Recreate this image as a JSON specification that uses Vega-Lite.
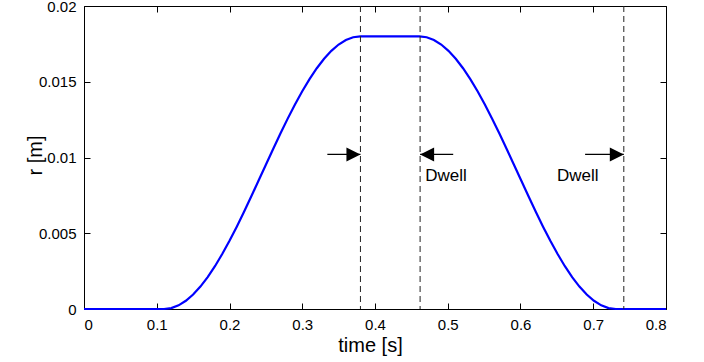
{
  "$schema": "https://vega.github.io/schema/vega-lite/v6.json",
  "width": 582,
  "height": 303,
  "autosize": "none",
  "padding": {"left": 84, "top": 6, "right": 38, "bottom": 53},
  "config": {
    "font": "Liberation Sans",
    "view": {"stroke": "#000000", "strokeWidth": 1},
    "axis": {"domain": false, "grid": false, "tickColor": "#000000", "tickWidth": 1, "labelColor": "#000000", "titleColor": "#000000", "labelFontSize": 15, "titleFontSize": 20, "titleFontWeight": "normal", "tickSize": -6, "labelPadding": 14}
  },
  "resolve": {"axis": {"x": "independent", "y": "independent"}},
  "layer": [
    {
      "data": {"values": [
        {"t": 0, "r": 0}, {"t": 0.11, "r": 0},
        {"t": 0.12, "r": 0.0000608}, {"t": 0.13, "r": 0.000243}, {"t": 0.14, "r": 0.000543}, {"t": 0.15, "r": 0.000957},
        {"t": 0.16, "r": 0.001481}, {"t": 0.17, "r": 0.002106}, {"t": 0.18, "r": 0.002824}, {"t": 0.19, "r": 0.003626},
        {"t": 0.2, "r": 0.0045}, {"t": 0.21, "r": 0.005435}, {"t": 0.22, "r": 0.006419}, {"t": 0.23, "r": 0.007437},
        {"t": 0.24, "r": 0.008477}, {"t": 0.25, "r": 0.009523}, {"t": 0.26, "r": 0.010563}, {"t": 0.27, "r": 0.011581},
        {"t": 0.28, "r": 0.012565}, {"t": 0.29, "r": 0.0135}, {"t": 0.3, "r": 0.014374}, {"t": 0.31, "r": 0.015176},
        {"t": 0.32, "r": 0.015894}, {"t": 0.33, "r": 0.016519}, {"t": 0.34, "r": 0.017043}, {"t": 0.35, "r": 0.017457},
        {"t": 0.36, "r": 0.017757}, {"t": 0.37, "r": 0.017939}, {"t": 0.38, "r": 0.018},
        {"t": 0.461, "r": 0.018}, {"t": 0.471, "r": 0.017939}, {"t": 0.481, "r": 0.017757}, {"t": 0.491, "r": 0.017457},
        {"t": 0.501, "r": 0.017043}, {"t": 0.511, "r": 0.016519}, {"t": 0.521, "r": 0.015894}, {"t": 0.531, "r": 0.015176},
        {"t": 0.541, "r": 0.014374}, {"t": 0.551, "r": 0.0135}, {"t": 0.561, "r": 0.012565}, {"t": 0.571, "r": 0.011581},
        {"t": 0.581, "r": 0.010563}, {"t": 0.591, "r": 0.009523}, {"t": 0.601, "r": 0.008477}, {"t": 0.611, "r": 0.007437},
        {"t": 0.621, "r": 0.006419}, {"t": 0.631, "r": 0.005435}, {"t": 0.641, "r": 0.0045}, {"t": 0.651, "r": 0.003626},
        {"t": 0.661, "r": 0.002824}, {"t": 0.671, "r": 0.002106}, {"t": 0.681, "r": 0.001481}, {"t": 0.691, "r": 0.000957},
        {"t": 0.701, "r": 0.000543}, {"t": 0.711, "r": 0.000243}, {"t": 0.721, "r": 0.0000608}, {"t": 0.731, "r": 0},
        {"t": 0.8, "r": 0}
      ]},
      "mark": {"type": "line", "color": "#0000ff", "strokeWidth": 2.2},
      "encoding": {
        "x": {"field": "t", "type": "quantitative", "scale": {"domain": [0, 0.8], "nice": false},
          "axis": {"orient": "bottom", "values": [0, 0.1, 0.2, 0.3, 0.4, 0.5, 0.6, 0.7, 0.8], "format": "~g", "title": "time [s]", "titleX": 286, "titleY": 42, "titleBaseline": "alphabetic", "titleAlign": "center"}},
        "y": {"field": "r", "type": "quantitative", "scale": {"domain": [0, 0.02], "nice": false},
          "axis": {"orient": "left", "values": [0, 0.005, 0.01, 0.015, 0.02], "format": "~g", "title": "r [m]", "titleX": -43, "titleY": 149, "titleBaseline": "alphabetic", "titleAlign": "center", "titleAngle": -90}}
      }
    },
    {
      "data": {"values": [{"t": 0.38}, {"t": 0.462}, {"t": 0.742}]},
      "mark": {"type": "rule", "color": "#222222", "strokeWidth": 1, "strokeDash": [6, 4]},
      "encoding": {
        "x": {"field": "t", "type": "quantitative", "scale": {"domain": [0, 0.8], "nice": false}, "axis": null}
      }
    },
    {
      "data": {"values": [
        {"x1": 0.3345, "x2": 0.38, "y": 0.0102},
        {"x1": 0.462, "x2": 0.5075, "y": 0.0102},
        {"x1": 0.6888, "x2": 0.742, "y": 0.0102}
      ]},
      "mark": {"type": "rule", "color": "#000000", "strokeWidth": 1.3},
      "encoding": {
        "x": {"field": "x1", "type": "quantitative", "scale": {"domain": [0, 0.8], "nice": false},
          "axis": {"orient": "top", "values": [0, 0.1, 0.2, 0.3, 0.4, 0.5, 0.6, 0.7, 0.8], "labels": false, "title": null}},
        "x2": {"field": "x2"},
        "y": {"field": "y", "type": "quantitative", "scale": {"domain": [0, 0.02], "nice": false},
          "axis": {"orient": "right", "values": [0, 0.005, 0.01, 0.015, 0.02], "labels": false, "title": null}}
      }
    },
    {
      "data": {"values": [
        {"x": 0.38, "y": 0.0102, "dir": "r"},
        {"x": 0.462, "y": 0.0102, "dir": "l"},
        {"x": 0.742, "y": 0.0102, "dir": "r"}
      ]},
      "mark": {"type": "point", "filled": true, "color": "#000000", "opacity": 1, "size": 784, "strokeWidth": 0},
      "encoding": {
        "x": {"field": "x", "type": "quantitative", "scale": {"domain": [0, 0.8], "nice": false}, "axis": null},
        "y": {"field": "y", "type": "quantitative", "scale": {"domain": [0, 0.02], "nice": false}, "axis": null},
        "shape": {"field": "dir", "type": "nominal", "scale": {"domain": ["r", "l"], "range": ["M0,0L-1,-0.5L-1,0.5Z", "M0,0L1,-0.5L1,0.5Z"]}, "legend": null}
      }
    },
    {
      "data": {"values": [
        {"x": 0.469, "y": 0.00875, "label": "Dwell"},
        {"x": 0.65, "y": 0.00875, "label": "Dwell"}
      ]},
      "mark": {"type": "text", "align": "left", "baseline": "middle", "fontSize": 17, "color": "#000000"},
      "encoding": {
        "x": {"field": "x", "type": "quantitative", "scale": {"domain": [0, 0.8], "nice": false}, "axis": null},
        "y": {"field": "y", "type": "quantitative", "scale": {"domain": [0, 0.02], "nice": false}, "axis": null},
        "text": {"field": "label"}
      }
    }
  ]
}
